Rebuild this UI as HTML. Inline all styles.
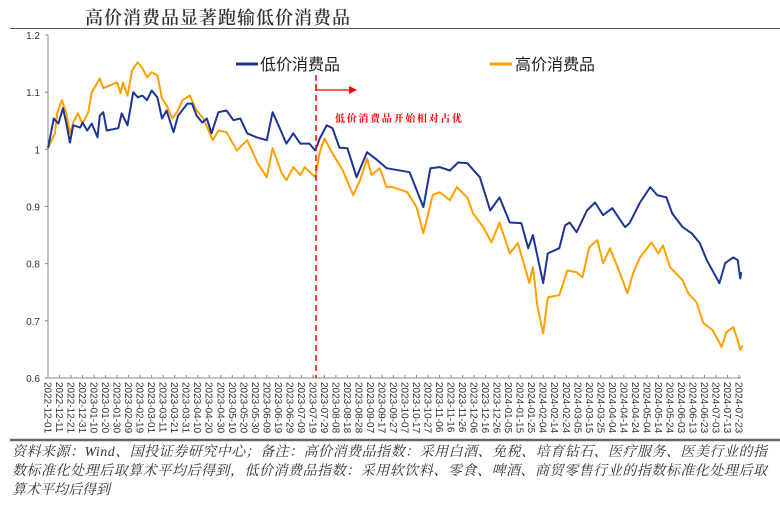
<!DOCTYPE html>
<html><head><meta charset="utf-8">
<style>
html,body{margin:0;padding:0;background:#fff;}
svg{display:block;}
</style></head>
<body>
<svg id="chart" width="780" height="505" viewBox="0 0 780 505" xmlns="http://www.w3.org/2000/svg">
<text x="85" y="24" font-family="'Liberation Serif','Noto Serif CJK SC',serif" font-size="18" font-weight="600" fill="#333" textLength="265">高价消费品显著跑输低价消费品</text>
<line x1="10" y1="28.5" x2="780" y2="28.5" stroke="#555" stroke-width="1"/>
<g id="axes"></g>
<g id="series"></g>
<g>
<line x1="316" y1="75" x2="316" y2="378" stroke="#f00" stroke-width="1.5" stroke-dasharray="6,4"/>
<polyline points="316,84 316,90 350,90" fill="none" stroke="#f00" stroke-width="1.3"/>
<polygon points="349,86 357,90 349,94" fill="#f00"/>
<text x="335" y="122" font-family="'Liberation Serif','Noto Serif CJK SC',serif" font-size="10" font-weight="bold" fill="#f00" textLength="127">低价消费品开始相对占优</text>
</g>
<g>
<line x1="236" y1="64" x2="258" y2="64" stroke="#1c3494" stroke-width="3"/>
<text x="260" y="70" font-family="'Liberation Sans','Noto Sans CJK SC',sans-serif" font-size="16" fill="#222">低价消费品</text>
<line x1="490" y1="64" x2="512" y2="64" stroke="#ffa000" stroke-width="3"/>
<text x="515" y="70" font-family="'Liberation Sans','Noto Sans CJK SC',sans-serif" font-size="16" fill="#222">高价消费品</text>
</g>
<line x1="10" y1="440" x2="780" y2="440" stroke="#666" stroke-width="2.5"/>
<g font-family="'Liberation Serif','Noto Serif CJK SC',serif" font-size="14" font-style="italic" fill="#333">
<text x="12" y="456" textLength="755">资料来源：Wind、国投证券研究中心；备注：高价消费品指数：采用白酒、免税、培育钻石、医疗服务、医美行业的指</text>
<text x="12" y="475" textLength="755">数标准化处理后取算术平均后得到，低价消费品指数：采用软饮料、零食、啤酒、商贸零售行业的指数标准化处理后取</text>
<text x="12" y="494">算术平均后得到</text>
</g>
</svg>
<script>
const lowDays = [0,5,9,13,16,19,22,28,30,34,38,43,45,48,51,61,64,69,74,78,82,86,90,95,99,103,109,113,121,125,129,134,138,142,148,155,161,167,173,181,190,195,201,207,213,219,227,232,236,242,247,253,260,268,277,286,294,314,326,332,340,349,356,364,375,384,392,401,411,417,421,430,434,444,449,453,459,468,475,482,490,501,505,514,523,529,537,542,551,559,566,572,583,588,595,599,601,602];
const lowValues = [1.002,1.054,1.045,1.072,1.045,1.012,1.042,1.038,1.047,1.033,1.045,1.021,1.059,1.065,1.033,1.037,1.063,1.042,1.100,1.091,1.094,1.086,1.103,1.091,1.054,1.068,1.030,1.059,1.080,1.080,1.059,1.047,1.054,1.028,1.065,1.068,1.051,1.054,1.028,1.021,1.016,1.065,1.038,1.010,1.028,1.010,1.010,0.998,1.019,1.042,1.037,1.003,1.002,0.951,0.995,0.981,0.967,0.960,0.899,0.967,0.969,0.963,0.977,0.976,0.951,0.893,0.916,0.872,0.871,0.827,0.850,0.766,0.818,0.827,0.867,0.872,0.855,0.893,0.907,0.885,0.897,0.864,0.871,0.907,0.934,0.920,0.916,0.888,0.864,0.853,0.836,0.806,0.766,0.801,0.811,0.806,0.774,0.785];
const highDays = [0,6,8,12,16,19,22,26,30,35,38,45,48,54,60,63,65,69,73,76,78,82,86,90,95,99,103,108,112,117,123,129,135,143,148,155,164,173,182,190,195,203,207,213,219,223,232,236,240,247,256,265,271,277,281,288,294,299,312,320,326,334,340,349,355,364,369,378,385,392,401,408,418,421,425,430,434,444,451,459,464,470,477,482,488,499,503,508,514,524,530,534,540,551,556,563,569,577,585,589,595,599,601,603];
const highValues = [1.002,1.028,1.063,1.086,1.063,1.028,1.047,1.063,1.045,1.065,1.100,1.124,1.107,1.112,1.117,1.098,1.117,1.094,1.138,1.147,1.152,1.142,1.126,1.135,1.129,1.089,1.077,1.054,1.065,1.086,1.094,1.068,1.054,1.016,1.033,1.030,0.998,1.016,0.976,0.951,1.002,0.958,0.946,0.969,0.955,0.969,0.951,0.995,1.019,0.993,0.963,0.920,0.946,0.984,0.955,0.967,0.934,0.934,0.925,0.899,0.853,0.920,0.925,0.911,0.934,0.916,0.888,0.864,0.837,0.872,0.818,0.836,0.766,0.794,0.724,0.678,0.741,0.745,0.788,0.785,0.776,0.829,0.841,0.801,0.827,0.771,0.748,0.783,0.811,0.837,0.818,0.832,0.794,0.771,0.748,0.733,0.696,0.684,0.654,0.680,0.689,0.666,0.649,0.657];
const yTicks = [0.6,0.7,0.8,0.9,1.0,1.1,1.2];
const yTickLabels = ["0.6","0.7","0.8","0.9","1","1.1","1.2"];
const startDate = "2022-12-01";
const tickStepDays = 10;
const tickCount = 61;

const NS = "http://www.w3.org/2000/svg";
const X0 = 48, X1 = 739, Y0 = 378, Y1 = 35;
const xScale = d => X0 + d * (X1 - X0) / 600;
const yScale = v => Y0 - (v - 0.6) * (Y0 - Y1) / 0.6;
function mk(tag, attrs, parent){ const e = document.createElementNS(NS, tag); for (const k in attrs) e.setAttribute(k, attrs[k]); parent.appendChild(e); return e; }

const axes = document.getElementById('axes');
let yAxis = mk('line', {x1:X0, y1:Y1, x2:X0, y2:Y0, stroke:'#888', 'stroke-width':1}, axes);


let xAxis = mk('line', {x1:X0, y1:Y0, x2:X1+2, y2:Y0, stroke:'#888', 'stroke-width':1}, axes);


yTicks.forEach((v, i) => {
  const y = yScale(v);
  let t = mk('line', {x1:X0-3, y1:y, x2:X0, y2:y, stroke:'#888'}, axes);
  
  
  let l = mk('text', {x:X0-8, y:y+4, 'text-anchor':'end', 'font-family':'Liberation Sans, sans-serif', 'font-size':10, fill:'#333'}, axes);
  l.textContent = yTickLabels[i];
  
  
});
const base = new Date(startDate + "T00:00:00Z");
for (let i = 0; i < tickCount; i++) {
  const d = i * tickStepDays;
  const x = xScale(d);
  let t = mk('line', {x1:x, y1:Y0-3, x2:x, y2:Y0, stroke:'#888'}, axes);
  
  
  const dt = new Date(base.getTime() + d * 86400000);
  const s = dt.toISOString().slice(0, 10);
  let l = mk('text', {x:0, y:0, transform:`translate(${x-3.5},382) rotate(90)`, 'font-family':'Liberation Sans, sans-serif', 'font-size':10, fill:'#333'}, axes);
  l.textContent = s;
  
  
}
const series = document.getElementById('series');
function path(days, vals){ return days.map((d, i) => (i ? 'L' : 'M') + xScale(d).toFixed(1) + ',' + yScale(vals[i]).toFixed(1)).join(''); }
let hp = mk('path', {d:path(highDays, highValues), fill:'none', stroke:'#ffa000', 'stroke-width':2, 'stroke-linejoin':'round'}, series);


let lp = mk('path', {d:path(lowDays, lowValues), fill:'none', stroke:'#1c3494', 'stroke-width':2, 'stroke-linejoin':'round'}, series);


</script>
</body></html>
